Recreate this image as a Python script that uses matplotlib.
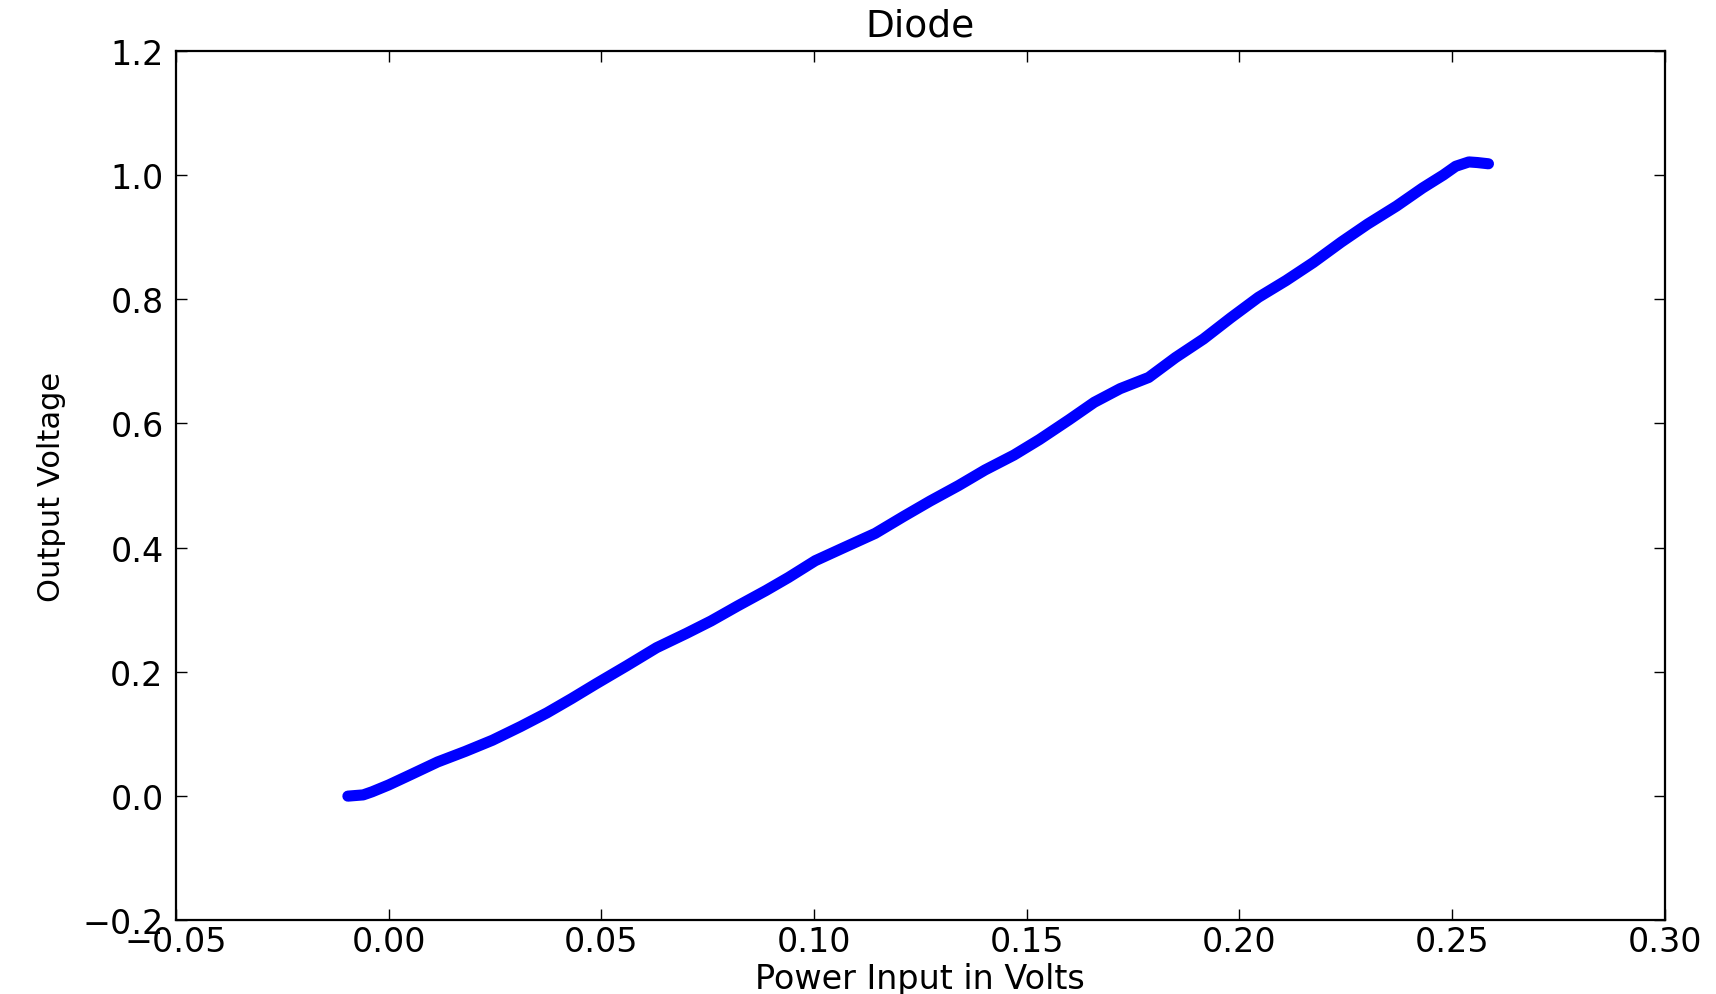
import matplotlib
matplotlib.use("Agg")
import matplotlib.pyplot as plt

# readings of the diode sweep (input volts -> output volts)
power_in = [-0.0096, -0.0060, -0.0039, 0.0000, 0.0050, 0.0115, 0.0180, 0.0244,
            0.0310, 0.0372, 0.0430, 0.0488, 0.0560, 0.0630, 0.0700, 0.0758,
            0.0820, 0.0887, 0.0940, 0.1003, 0.1070, 0.1144, 0.1210, 0.1273,
            0.1340, 0.1402, 0.1470, 0.1530, 0.1600, 0.1659, 0.1720, 0.1787,
            0.1850, 0.1916, 0.1980, 0.2045, 0.2110, 0.2174, 0.2240, 0.2302,
            0.2370, 0.2431, 0.2480, 0.2509, 0.2540, 0.2560, 0.2586]
output_v = [0.000, 0.002, 0.007, 0.018, 0.034, 0.055, 0.072, 0.090,
            0.112, 0.134, 0.157, 0.181, 0.210, 0.239, 0.262, 0.282,
            0.306, 0.331, 0.352, 0.379, 0.400, 0.423, 0.450, 0.475,
            0.500, 0.525, 0.549, 0.574, 0.606, 0.634, 0.656, 0.674,
            0.706, 0.736, 0.770, 0.803, 0.830, 0.859, 0.892, 0.921,
            0.950, 0.979, 1.000, 1.014, 1.021, 1.020, 1.018]

x_ticks = [-0.05, 0.00, 0.05, 0.10, 0.15, 0.20, 0.25, 0.30]
y_ticks = [-0.2, 0.0, 0.2, 0.4, 0.6, 0.8, 1.0, 1.2]

fig = plt.figure(figsize=(17.16, 9.95), dpi=100, facecolor="white")
ax = fig.add_axes([0.1026, 0.074, 0.8674, 0.874])

ax.plot(power_in, output_v, color="blue", lw=8, solid_capstyle="round",
        solid_joinstyle="round")

ax.set_xlim(-0.05, 0.30)
ax.set_ylim(-0.2, 1.2)
ax.set_xticks(x_ticks)
ax.set_yticks(y_ticks)
ax.set_xticklabels([f"{v:.2f}".replace("-", "\u2212") for v in x_ticks])
ax.set_yticklabels([f"{v:.1f}".replace("-", "\u2212") for v in y_ticks])

# old-style look: inward ticks on every side
ax.tick_params(direction="in", length=8, width=1, top=True, right=True,
               labelsize=24)
ax.tick_params(axis="x", pad=3)
ax.tick_params(axis="y", pad=9)
for s in ax.spines.values():
    s.set_linewidth(1.6)

ax.set_title("Diode", fontsize=27, pad=11)
ax.set_xlabel("Power Input in Volts", fontsize=24, labelpad=3)
ax.set_ylabel("Output Voltage", fontsize=22, labelpad=12)

fig.savefig("out.png", dpi=100, facecolor="white")
